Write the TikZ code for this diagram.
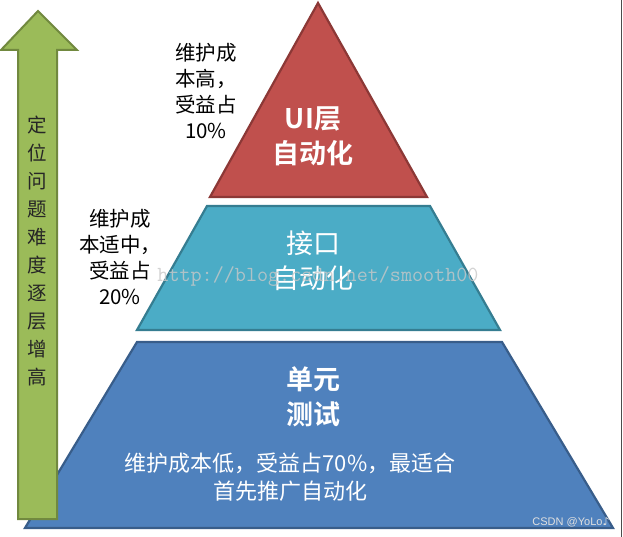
\documentclass[tikz,border=0pt]{standalone}
\usepackage{fontspec}
\setmainfont{Liberation Sans}
\newfontfamily\cjk{Noto Sans CJK SC}
\newfontfamily\cjkb{Noto Sans CJK SC}[BoldFont={* Bold}]
\newfontfamily\monow{Latin Modern Mono}
\newfontfamily\dejav{DejaVu Sans}
\definecolor{arrowgreen}{HTML}{9BBB59}
\definecolor{arrowedge}{HTML}{71893F}
\definecolor{topred}{HTML}{C0504D}
\definecolor{topredge}{HTML}{8C3836}
\definecolor{midteal}{HTML}{4BACC6}
\definecolor{midtealedge}{HTML}{357D91}
\definecolor{basblue}{HTML}{4F81BD}
\definecolor{basblueedge}{HTML}{385D8A}
\definecolor{wmgray}{HTML}{C8C8C8}
\tikzset{
  layer/.style={line width=2.2pt, line join=miter},
  title/.style={text=white, align=center, font=\cjk\fontsize{27}{35}\selectfont, inner sep=0pt},
  titleb/.style={text=white, align=center, font=\cjkb\bfseries\fontsize{27}{35}\selectfont, inner sep=0pt},
  sidenote/.style={text=black, align=center, font=\cjk\fontsize{20.5}{26}\selectfont, inner sep=0pt},
  vlabel/.style={text=black!85, font=\cjk\fontsize{19.5}{28}\selectfont, inner sep=0pt},
}
\begin{document}
\begin{tikzpicture}[x=1pt,y=-1pt]
\useasboundingbox (0,0) rectangle (623,537);
\fill[white] (0,0) rectangle (623,537);
% bottom layer
\draw[layer, fill=basblue, draw=basblueedge] (137,342) -- (502,342) -- (613,528) -- (25,528) -- cycle;
% middle layer
\draw[layer, fill=midteal, draw=midtealedge] (207,206) -- (430,206) -- (500,330) -- (137,330) -- cycle;
% top layer
\draw[layer, fill=topred, draw=topredge] (318,3) -- (427,197) -- (210,197) -- cycle;
% arrow
\draw[line width=2pt, fill=arrowgreen, draw=arrowedge, line join=miter]
  (38,11) -- (77,50) -- (57,50) -- (57,519) -- (18,519) -- (18,50) -- (1,50) -- cycle;
% arrow text
\node[vlabel, align=center] (vtext) at (37,251) {定\\位\\问\\题\\难\\度\\逐\\层\\增\\高};
% titles
\node[titleb] (ui) at (313,136) {UI层\\自动化};
\node[title] (api) at (313,261) {接口\\自动化};
\node[titleb] (unit) at (313,397) {单元\\测试};
\node[text=white, align=center, font=\cjk\fontsize{22}{28}\selectfont, inner sep=0pt] (unitnote) at (290,477) {维护成本低，受益占70\%，最适合\\首先推广自动化};
% side notes
\node[sidenote] (note1) at (206,91) {维护成\\本高，\\受益占\\10\%};
\node[sidenote] (note2) at (120,257) {维护成\\本适中，\\受益占\\20\%};
% watermarks
\node[text=wmgray, opacity=0.8, font=\monow\fontsize{21.5}{22}\selectfont, inner sep=0pt] (wm) at (318,277) {http://blog.csdn.net/smooth00};
\node[text=white!88!black, font=\fontsize{11}{12}\selectfont, inner sep=0pt] (csdn) at (571,522) {CSDN @YoLo{\dejav ♪}};
% right border line
\draw[line width=1pt, draw=black!70] (621,0) coordinate (bt) -- (621,537) coordinate (bb);
\end{tikzpicture}
\end{document}
